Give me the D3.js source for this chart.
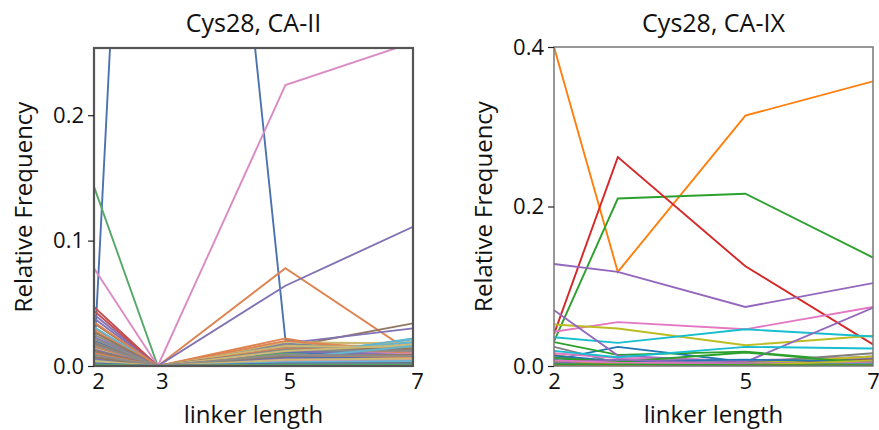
<!DOCTYPE html>
<html lang="en">
<head>
    <meta charset="UTF-8">
    <title>Cys28 linker length</title>
    <script src="https://d3js.org/d3.v7.min.js"></script>
    <style>
        body { margin: 0; padding: 0; background: #fff; }
        svg text { font-family: "Open Sans", Lato, sans-serif; fill: #111; }
    </style>
</head>
<body>
<div id="chart"></div>
<script>
    // linker lengths on the x axis
    const linkerLengths = [2, 3, 5, 7];

    // CA-II: relative frequency of each compound at linker 2, 3, 5, 7
    const caIISeries = [
        [0.004, 1.0, 0.021, 0.007],
        [0.030, 0, 0.078, 0.010],
        [0.143, 0, 0.011, 0.005],
        [0.047, 0, 0.007, 0.004],
        [0.041, 0, 0.064, 0.111],
        [0.034, 0, 0.015, 0.034],
        [0.078, 0, 0.224, 0.258],
        [0.025, 0, 0.016, 0.013],
        [0.021, 0, 0.017, 0.019],
        [0.031, 0, 0.009, 0.021],
        [0.020, 0, 0.018, 0.009],
        [0.028, 0, 0.022, 0.005],
        [0.017, 0, 0.012, 0.003],
        [0.044, 0, 0.005, 0.006],
        [0.038, 0, 0.018, 0.030],
        [0.027, 0, 0.016, 0.015],
        [0.013, 0, 0.009, 0.017],
        [0.019, 0, 0.017, 0.014],
        [0.011, 0, 0.019, 0.018],
        [0.009, 0, 0.007, 0.022],
        [0.015, 0, 0.013, 0.011],
        [0.035, 0, 0.020, 0.012],
        [0.008, 0, 0.013, 0.008],
        [0.006, 0, 0.004, 0.005],
        [0.023, 0, 0.015, 0.012],
        [0.018, 0, 0.014, 0.016],
        [0.010, 0, 0.008, 0.012],
        [0.022, 0, 0.015, 0.013],
        [0.014, 0, 0.016, 0.015],
        [0.007, 0, 0.010, 0.019],
        [0.012, 0, 0.011, 0.008],
        [0.016, 0, 0.014, 0.011],
        [0.009, 0, 0.010, 0.004],
        [0.005, 0, 0.003, 0.003],
        [0.013, 0, 0.012, 0.009],
        [0.012, 0, 0.013, 0.014],
        [0.006, 0, 0.006, 0.010],
        [0.017, 0, 0.013, 0.012],
        [0.008, 0, 0.012, 0.017],
        [0.005, 0, 0.006, 0.016],
        [0.007, 0, 0.007, 0.006],
        [0.010, 0, 0.009, 0.007],
        [0.004, 0, 0.005, 0.002],
        [0.003, 0, 0.002, 0.002],
        [0.006, 0, 0.006, 0.005],
        [0.007, 0, 0.008, 0.009],
        [0.003, 0, 0.004, 0.005],
        [0.009, 0, 0.009, 0.008],
        [0.004, 0, 0.005, 0.006],
        [0.002, 0, 0.003, 0.004],
        [0.002, 0, 0.002, 0.002],
        [0.001, 0, 0.001, 0.001],
        [0.001, 0, 0.001, 0.001]
    ];

    // CA-IX: same layout
    const caIXSeries = [
        [0.010, 0.003, 0.003, 0.008],
        [0.400, 0.118, 0.314, 0.357],
        [0.031, 0.210, 0.216, 0.136],
        [0.040, 0.262, 0.125, 0.027],
        [0.128, 0.118, 0.074, 0.104],
        [0.006, 0.002, 0.002, 0.004],
        [0.043, 0.055, 0.046, 0.074],
        [0.024, 0.004, 0.005, 0.012],
        [0.052, 0.047, 0.026, 0.038],
        [0.036, 0.029, 0.046, 0.037],
        [0.008, 0.024, 0.005, 0.010],
        [0.014, 0.002, 0.002, 0.006],
        [0.030, 0.014, 0.018, 0.004],
        [0.003, 0.001, 0.001, 0.002],
        [0.070, 0.013, 0.005, 0.073],
        [0.005, 0.002, 0.003, 0.008],
        [0.016, 0.010, 0.007, 0.011],
        [0.011, 0.003, 0.004, 0.016],
        [0.006, 0.003, 0.003, 0.012],
        [0.019, 0.011, 0.024, 0.022],
        [0.013, 0.006, 0.008, 0.006],
        [0.004, 0.002, 0.002, 0.004],
        [0.010, 0.005, 0.017, 0.003],
        [0.002, 0.001, 0.001, 0.001],
        [0.004, 0.008, 0.003, 0.005],
        [0.003, 0.001, 0.002, 0.003],
        [0.007, 0.004, 0.003, 0.004],
        [0.003, 0.001, 0.002, 0.003],
        [0.002, 0.001, 0.001, 0.007],
        [0.001, 0.001, 0.001, 0.002],
        [0.002, 0.001, 0.001, 0.001],
        [0.001, 0.001, 0.001, 0.001],
        [0.002, 0.002, 0.001, 0.001]
    ];

    const caIITicks = [0.0, 0.1, 0.2];
    const caIXTicks = [0.0, 0.2, 0.4];

    // seaborn "deep" on the left, matplotlib tab10 on the right
    const deepColors = ["#4c72b0", "#dd8452", "#55a868", "#c44e52", "#8172b3",
        "#937860", "#da8bc3", "#8c8c8c", "#ccb974", "#64b5cd"];
    const tabColors = ["#1f77b4", "#ff7f0e", "#2ca02c", "#d62728", "#9467bd",
        "#8c564b", "#e377c2", "#7f7f7f", "#bcbd22", "#17becf"];

    const width = 879, height = 430;

    const svg = d3.select("#chart")
        .append("svg")
        .attr("width", width)
        .attr("height", height);

    function drawPanel(opts) {
        const { id, left, right, top, bottom, ymax, ticks, series, colors, title, spine, spineWidth, labelX, tickShift } = opts;

        const x = d3.scaleLinear().domain([2, 7]).range([left, right]);
        const y = d3.scaleLinear().domain([0, ymax]).range([bottom, top]);

        const g = svg.append("g");

        g.append("clipPath").attr("id", id)
            .append("rect")
            .attr("x", left).attr("y", top)
            .attr("width", right - left).attr("height", bottom - top);

        const line = d3.line()
            .x((d, i) => x(linkerLengths[i]))
            .y(d => y(d));

        g.append("g")
            .attr("clip-path", `url(#${id})`)
            .selectAll("path")
            .data(series)
            .enter()
            .append("path")
            .attr("d", line)
            .attr("fill", "none")
            .attr("stroke", (d, i) => colors[i % colors.length])
            .attr("stroke-width", 1.9);

        // frame
        g.append("rect")
            .attr("x", left).attr("y", top)
            .attr("width", right - left).attr("height", bottom - top)
            .attr("fill", "none")
            .attr("stroke", spine)
            .attr("stroke-width", spineWidth);

        // y axis
        const yAxis = g.append("g")
            .attr("transform", `translate(${left},0)`)
            .call(d3.axisLeft(y).tickValues(ticks).tickFormat(d3.format(".1f")).tickSize(6).tickPadding(4));
        yAxis.select(".domain").remove();
        yAxis.selectAll("line").attr("stroke", "#222").attr("stroke-width", 1.2);
        yAxis.selectAll("text").attr("font-size", 22).attr("fill", "#111");

        // x axis (labels only)
        const xAxis = g.append("g")
            .attr("transform", `translate(0,${bottom})`)
            .call(d3.axisBottom(x).tickValues(linkerLengths).tickFormat(d3.format("d")).tickSize(0).tickPadding(7));
        xAxis.select(".domain").remove();
        xAxis.selectAll("text").attr("font-size", 22).attr("fill", "#111")
            .attr("dx", tickShift);

        const cx = (left + right) / 2;
        g.append("text")
            .attr("x", cx).attr("y", 32)
            .attr("text-anchor", "middle")
            .attr("font-size", 25)
            .text(title);

        g.append("text")
            .attr("x", cx).attr("y", 423)
            .attr("text-anchor", "middle")
            .attr("font-size", 24)
            .text("linker length");

        g.append("text")
            .attr("transform", `translate(${labelX},${(top + bottom) / 2}) rotate(-90)`)
            .attr("text-anchor", "middle")
            .attr("font-size", 24)
            .text("Relative Frequency");
    }

    drawPanel({
        id: "clipII", left: 94, right: 413, top: 48, bottom: 366,
        ymax: 0.2536, ticks: caIITicks, series: caIISeries, colors: deepColors,
        title: "Cys28, CA-II", spine: "#555", spineWidth: 2.2, labelX: 32, tickShift: 4
    });

    drawPanel({
        id: "clipIX", left: 554, right: 873, top: 47, bottom: 366,
        ymax: 0.4, ticks: caIXTicks, series: caIXSeries, colors: tabColors,
        title: "Cys28, CA-IX", spine: "#777", spineWidth: 1.5, labelX: 492, tickShift: 0
    });
</script>
</body>
</html>
